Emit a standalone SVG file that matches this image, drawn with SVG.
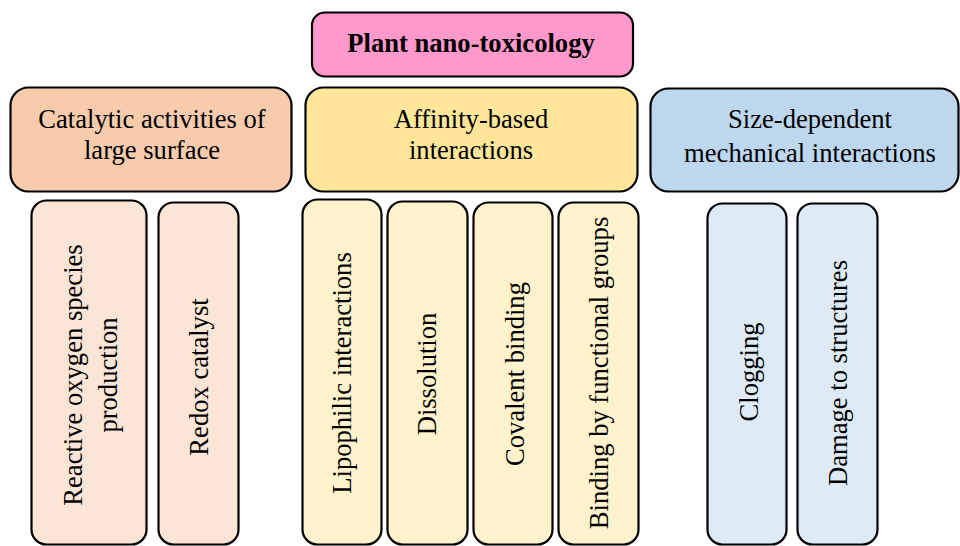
<svg xmlns="http://www.w3.org/2000/svg" width="960" height="546" viewBox="0 0 960 546">
<style>
.b{stroke:#000;stroke-width:2.2}
.t{font-family:"Liberation Serif","Times New Roman",serif;font-size:26.6px;fill:#000;text-anchor:middle}
.v{font-family:"Liberation Serif","Times New Roman",serif;font-size:26.6px;fill:#000;text-anchor:middle;dominant-baseline:central}
.h{font-weight:bold}
.c1{fill:#F8CBAD}.c2{fill:#FFE699}.c3{fill:#BDD7EE}
.l1{fill:#FBE5D6}.l2{fill:#FFF2CC}.l3{fill:#DEEBF7}
</style>
<rect width="960" height="546" fill="#fff"/>
<g id="connectors"></g>
<g id="root">
<rect class="b" x="312" y="12.5" width="321" height="64" rx="13" fill="#FF99CC"/>
<text class="t h" x="471" y="52">Plant nano-toxicology</text>
</g>
<g id="catalytic">
<rect class="b c1" x="10.5" y="87.5" width="281" height="104" rx="18"/>
<text class="t" x="152" y="128">Catalytic activities of</text>
<text class="t" x="152" y="159">large surface</text>
</g>
<g id="affinity">
<rect class="b c2" x="305.5" y="87.5" width="332" height="104" rx="18"/>
<text class="t" x="471" y="128">Affinity-based</text>
<text class="t" x="471" y="159">interactions</text>
</g>
<g id="size">
<rect class="b c3" x="650.5" y="88.5" width="308" height="103" rx="18"/>
<text class="t" x="810" y="128">Size-dependent</text>
<text class="t" x="810" y="162">mechanical interactions</text>
</g>
<g id="ros">
<rect class="b l1" x="31.5" y="200.5" width="115" height="344" rx="15"/>
<text class="v" transform="translate(73,375) rotate(-90)">Reactive oxygen species</text>
<text class="v" transform="translate(108,375) rotate(-90)">production</text>
</g>
<g id="redox">
<rect class="b l1" x="158.5" y="202.5" width="80" height="342" rx="15"/>
<text class="v" transform="translate(199,377) rotate(-90)">Redox catalyst</text>
</g>
<g id="lipophilic">
<rect class="b l2" x="302.5" y="199.5" width="79" height="345" rx="15"/>
<text class="v" transform="translate(342,373) rotate(-90)">Lipophilic interactions</text>
</g>
<g id="dissolution">
<rect class="b l2" x="387.5" y="201.5" width="80" height="343" rx="15"/>
<text class="v" transform="translate(427,374) rotate(-90)">Dissolution</text>
</g>
<g id="covalent">
<rect class="b l2" x="473.5" y="202.5" width="79" height="342" rx="15"/>
<text class="v" transform="translate(515,374) rotate(-90)">Covalent binding</text>
</g>
<g id="functional">
<rect class="b l2" x="558.5" y="202.5" width="80" height="342" rx="15"/>
<text class="v" transform="translate(599,373) rotate(-90)">Binding by functional groups</text>
</g>
<g id="clogging">
<rect class="b l3" x="707.5" y="203.5" width="79" height="341" rx="15"/>
<text class="v" transform="translate(749,372) rotate(-90)">Clogging</text>
</g>
<g id="damage">
<rect class="b l3" x="797.5" y="203.5" width="80" height="341" rx="15"/>
<text class="v" transform="translate(838,373) rotate(-90)">Damage to structures</text>
</g>
</svg>
